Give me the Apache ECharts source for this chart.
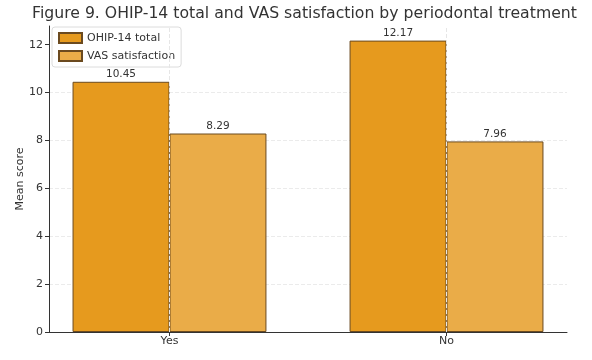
<!DOCTYPE html>
<html>
<head>
<meta charset="utf-8">
<script src="https://cdn.jsdelivr.net/npm/echarts@6/dist/echarts.min.js"></script>
<style>
  html, body { margin: 0; padding: 0; background: #fff; }
  #chart { width: 592px; height: 360px; }
</style>
</head>
<body>
<div id="chart"></div>
<script>
// Mean scores by periodontal treatment group
const categories = ['Yes', 'No'];
const ohipTotal = [10.45, 12.17];
const vasSatisfaction = [8.29, 7.96];
const yTicks = [0, 2, 4, 6, 8, 10, 12];
const seriesNames = ['OHIP-14 total', 'VAS satisfaction'];

const FONT = '"DejaVu Sans", sans-serif';
const categoryPositions = categories.map((c, i) => i);

function toPoints(values) {
  return values.map((v, i) => [i, v]);
}

const chart = echarts.init(document.getElementById('chart'), null, { renderer: 'canvas' });

const barLabel = {
  show: true,
  position: 'top',
  distance: 2,
  color: '#333',
  fontFamily: FONT,
  fontSize: 10.5,
  formatter: p => p.value[1].toFixed(2)
};

chart.setOption({
  animation: false,
  backgroundColor: '#fff',
  title: {
    text: 'Figure 9. OHIP-14 total and VAS satisfaction by periodontal treatment',
    left: 32,
    top: 6,
    padding: 0,
    textStyle: { fontFamily: FONT, fontSize: 15.7, fontWeight: 'normal', color: '#333' }
  },
  legend: {
    orient: 'vertical',
    left: 52,
    top: 27,
    padding: [5, 6, 5, 6],
    itemGap: 6,
    itemWidth: 23,
    itemHeight: 10,
    backgroundColor: '#fff',
    borderColor: '#dcdcdc',
    borderWidth: 1,
    borderRadius: 3,
    icon: 'rect',
    textStyle: { fontFamily: FONT, fontSize: 11, color: '#333' },
    data: seriesNames
  },
  grid: { left: 49, right: 25, top: 26, bottom: 28, containLabel: false },
  xAxis: {
    type: 'value',
    min: -0.435,
    max: 1.435,
    axisLine: { show: true, onZero: false, lineStyle: { color: '#333', width: 1 } },
    axisTick: { show: true, length: 4, customValues: categoryPositions, lineStyle: { color: '#333' } },
    axisLabel: {
      customValues: categoryPositions,
      formatter: v => categories[Math.round(v)],
      fontFamily: FONT, fontSize: 11, color: '#333', margin: 4
    },
    splitLine: { show: false }
  },
  yAxis: {
    type: 'value',
    min: 0,
    max: 12.78,
    interval: 2,
    name: 'Mean score',
    nameLocation: 'middle',
    nameGap: 23,
    nameMoveOverlap: false,
    nameTextStyle: { fontFamily: FONT, fontSize: 11, color: '#333' },
    axisLine: { show: true, onZero: false, lineStyle: { color: '#333', width: 1 } },
    axisTick: { show: true, length: 4, customValues: yTicks, lineStyle: { color: '#333' } },
    axisLabel: { customValues: yTicks, fontFamily: FONT, fontSize: 11, color: '#333', margin: 6 },
    splitLine: { show: true, showMaxLine: false, lineStyle: { color: '#ebebeb', width: 1, type: 'dashed' } }
  },
  series: [
    {
      // faint vertical grid at each group centre, drawn beneath the bars
      name: 'grid',
      type: 'line',
      data: [],
      silent: true,
      z: 0,
      markLine: {
        silent: true,
        symbol: 'none',
        label: { show: false },
        lineStyle: { color: '#e6e6e6', width: 1, type: 'dashed' },
        data: categoryPositions.map(x => ({ xAxis: x }))
      }
    },
    {
      name: seriesNames[0],
      type: 'bar',
      barWidth: '35%',
      barGap: '0%',
      data: toPoints(ohipTotal),
      itemStyle: { color: '#E69A1E', borderColor: '#6b4a1f', borderWidth: 1 },
      label: barLabel,
      z: 2
    },
    {
      name: seriesNames[1],
      type: 'bar',
      barWidth: '35%',
      barGap: '0%',
      data: toPoints(vasSatisfaction),
      itemStyle: { color: '#EAAC48', borderColor: '#6b4a1f', borderWidth: 1 },
      label: barLabel,
      z: 2
    }
  ]
});
</script>
</body>
</html>
